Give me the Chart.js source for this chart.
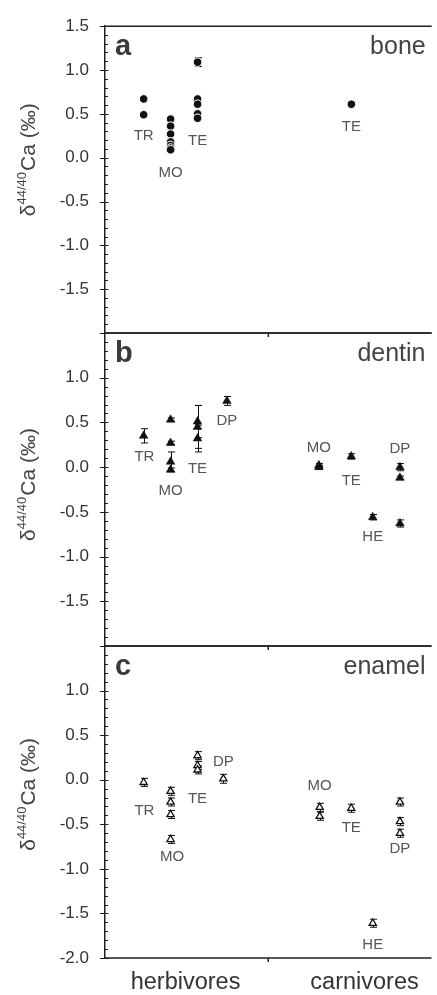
<!DOCTYPE html>
<html>
<head>
<meta charset="utf-8">
<script src="https://cdn.jsdelivr.net/npm/chart.js@4"></script>
<style>
html,body{margin:0;padding:0;background:#fff;overflow:hidden}
#wrap{position:relative;width:437px;height:995px}
#wrap canvas{position:absolute;left:0;top:0}
</style>
</head>
<body>
<div id="wrap">
<canvas id="pa" width="437" height="995"></canvas>
<canvas id="pb" width="437" height="995"></canvas>
<canvas id="pc" width="437" height="995"></canvas>
</div>
<script>
const FONT = '"Liberation Sans", Arial, Helvetica, sans-serif';

// x axis: diet categories and divider
const categories = ['herbivores', 'carnivores'];
const categoryX = [2.96, 9.54];
const xDivider = 6;

// y tick labels shown in each panel
const boneTicks = ['1.5', '1.0', '0.5', '0.0', '-0.5', '-1.0', '-1.5'];
const dentinTicks = ['1.0', '0.5', '0.0', '-0.5', '-1.0', '-1.5'];
const enamelTicks = ['1.0', '0.5', '0.0', '-0.5', '-1.0', '-1.5', '-2.0'];

// Panel a: bone
const boneX   = [1.42, 1.42, 2.41, 2.41, 2.41, 2.41, 2.41, 2.41, 2.41, 3.40, 3.40, 3.40, 3.40, 3.40, 9.05];
const boneY   = [0.67, 0.49, 0.44, 0.36, 0.27, 0.18, 0.14, 0.11, 0.09, 1.09, 0.67, 0.61, 0.50, 0.45, 0.61];
const boneErr = [0, 0, 0, 0, 0, 0, 0, 0, 0, 0.05, 0, 0, 0, 0, 0];
const boneLabels = ['TR', 'MO', 'TE', 'TE'];
const boneLabelX = [1.42, 2.41, 3.40, 9.05];
const boneLabelY = [0.25, -0.17, 0.19, 0.35];

// Panel b: dentin
const dentinX   = [1.42, 2.41, 2.41, 2.41, 2.41, 3.40, 3.40, 3.40, 4.48, 7.86, 7.86, 9.05, 10.84, 10.84, 9.84, 10.84];
const dentinY   = [0.35, 0.53, 0.27, 0.06, -0.03, 0.51, 0.45, 0.32, 0.74, 0.02, 0.00, 0.12, 0.00, -0.12, -0.56, -0.63];
const dentinErr = [0.08, 0.02, 0.02, 0.11, 0.02, 0.18, 0.24, 0.15, 0.05, 0.02, 0.02, 0.03, 0.04, 0.02, 0.03, 0.04];
const dentinLabels = ['TR', 'MO', 'TE', 'DP', 'MO', 'TE', 'HE', 'DP'];
const dentinLabelX = [1.45, 2.41, 3.40, 4.48, 7.86, 9.05, 9.84, 10.84];
const dentinLabelY = [0.11, -0.27, -0.02, 0.52, 0.22, -0.15, -0.78, 0.21];

// Panel c: enamel
const enamelX   = [1.42, 2.41, 2.41, 2.41, 2.41, 3.40, 3.40, 3.40, 4.35, 7.89, 7.89, 9.05, 10.84, 10.84, 10.84, 9.84];
const enamelY   = [-0.03, -0.13, -0.25, -0.39, -0.67, 0.27, 0.16, 0.11, 0.01, -0.31, -0.41, -0.32, -0.25, -0.47, -0.60, -1.61];
const enamelErr = [0.045, 0.045, 0.045, 0.045, 0.045, 0.045, 0.045, 0.045, 0.05, 0.045, 0.045, 0.045, 0.045, 0.045, 0.045, 0.045];
const enamelLabels = ['TR', 'MO', 'TE', 'DP', 'MO', 'TE', 'HE', 'DP'];
const enamelLabelX = [1.45, 2.47, 3.40, 4.35, 7.89, 9.05, 9.84, 10.84];
const enamelLabelY = [-0.35, -0.86, -0.22, 0.195, -0.07, -0.54, -1.85, -0.775];

function panelPlugin(cfg) {
  return {
    id: 'panel_' + cfg.letter,
    beforeDatasetsDraw(chart) {
      const ctx = chart.ctx, xs = chart.scales.x, ys = chart.scales.y;
      ctx.save();
      ctx.strokeStyle = '#111';
      ctx.lineWidth = 1;
      cfg.x.forEach((xv, i) => {
        const e = cfg.err[i];
        if (!e) return;
        const px = Math.round(xs.getPixelForValue(xv)) + 0.5;
        const y1 = ys.getPixelForValue(cfg.y[i] + e);
        const y2 = ys.getPixelForValue(cfg.y[i] - e);
        ctx.beginPath();
        ctx.moveTo(px, y1); ctx.lineTo(px, y2);
        ctx.moveTo(px - 3.5, y1); ctx.lineTo(px + 3.5, y1);
        ctx.moveTo(px - 3.5, y2); ctx.lineTo(px + 3.5, y2);
        ctx.stroke();
      });
      ctx.restore();
    },
    afterDraw(chart) {
      const ctx = chart.ctx, a = chart.chartArea, xs = chart.scales.x, ys = chart.scales.y;
      ctx.save();
      // frame lines (top and bottom of panel)
      ctx.strokeStyle = '#222';
      ctx.lineWidth = 1.5;
      ctx.beginPath();
      ctx.moveTo(a.left, a.top); ctx.lineTo(a.right, a.top);
      ctx.moveTo(a.left, a.bottom); ctx.lineTo(a.right, a.bottom);
      // divider tick on bottom axis
      const mx = xs.getPixelForValue(xDivider);
      ctx.moveTo(mx, a.bottom); ctx.lineTo(mx, a.bottom + 4);
      ctx.stroke();
      // y ticks: major every 0.5 (crossing), minor every 0.1
      ctx.lineWidth = 1;
      ctx.beginPath();
      for (let k = 0; k <= 35; k++) {
        const v = ys.min + k * 0.1;
        const py = Math.round(ys.getPixelForValue(v)) + 0.5;
        if (k % 5 === 0) {
          ctx.moveTo(a.left - 5, py); ctx.lineTo(a.left + 3.5, py);
        } else {
          ctx.moveTo(a.left, py); ctx.lineTo(a.left + 3, py);
        }
      }
      ctx.stroke();
      // panel letter
      ctx.fillStyle = '#3a3a3a';
      ctx.font = 'bold 29px ' + FONT;
      ctx.textAlign = 'left';
      ctx.textBaseline = 'alphabetic';
      ctx.fillText(cfg.letter, a.left + 10, a.top + 29);
      // tissue name
      ctx.fillStyle = '#444';
      ctx.font = '25px ' + FONT;
      ctx.textAlign = 'right';
      ctx.fillText(cfg.name, a.right - 6, a.top + 28);
      // group labels
      ctx.fillStyle = '#555';
      ctx.font = '15px ' + FONT;
      ctx.textAlign = 'center';
      ctx.textBaseline = 'middle';
      cfg.labels.forEach((t, i) => {
        ctx.fillText(t, xs.getPixelForValue(cfg.labelX[i]), ys.getPixelForValue(cfg.labelY[i]));
      });
      // y axis title with superscript
      const cy = ys.getPixelForValue(cfg.titleMid);
      ctx.translate(35, cy);
      ctx.rotate(-Math.PI / 2);
      ctx.fillStyle = '#444';
      ctx.textAlign = 'left';
      ctx.textBaseline = 'alphabetic';
      ctx.font = '21px ' + FONT;
      const w1 = ctx.measureText('\u03B4').width;
      const w3 = ctx.measureText('Ca (\u2030)').width;
      ctx.font = '13px ' + FONT;
      const w2 = ctx.measureText('44/40').width;
      let x0 = -(w1 + w2 + w3) / 2;
      ctx.font = '21px ' + FONT;
      ctx.fillText('\u03B4', x0, 0);
      ctx.font = '13px ' + FONT;
      ctx.fillText('44/40', x0 + w1, -9);
      ctx.font = '21px ' + FONT;
      ctx.fillText('Ca (\u2030)', x0 + w1 + w2 + 1, 0);
      ctx.restore();
    }
  };
}

function makePanel(id, cfg) {
  const showX = cfg.showX;
  new Chart(document.getElementById(id), {
    type: 'scatter',
    data: {
      datasets: [{
        data: cfg.x.map((xv, i) => ({x: xv, y: cfg.y[i]})),
        pointStyle: cfg.pointStyle,
        pointRadius: cfg.radius,
        pointBackgroundColor: cfg.fill,
        pointBorderColor: cfg.stroke,
        pointBorderWidth: cfg.strokeWidth,
        clip: false
      }]
    },
    options: {
      responsive: false,
      animation: false,
      devicePixelRatio: 1,
      events: [],
      layout: {padding: {top: cfg.padTop, bottom: cfg.padBottom, left: 0, right: 0}},
      plugins: {legend: {display: false}, tooltip: {enabled: false}},
      scales: {
        x: {
          type: 'linear',
          min: 0,
          max: 12,
          display: showX,
          border: {display: false},
          grid: {display: false, drawTicks: false},
          afterBuildTicks: s => { s.ticks = categoryX.map(v => ({value: v})); },
          afterFit: s => { s.height = showX ? 37 : 0; },
          ticks: {
            autoSkip: false,
            maxRotation: 0,
            padding: 10,
            color: '#333',
            font: {family: FONT, size: 23.5},
            callback: (v, i) => categories[i]
          }
        },
        y: {
          type: 'linear',
          min: -2.0,
          max: 1.5,
          border: {display: true, color: '#222', width: 1.5},
          grid: {display: false, drawTicks: false},
          afterFit: s => { s.width = 105; },
          ticks: {
            stepSize: 0.5,
            padding: 16,
            color: '#333',
            font: {family: FONT, size: 17},
            callback: v => {
              const t = Number(v).toFixed(1);
              return cfg.ticks.includes(t) ? t : '';
            }
          }
        }
      }
    },
    plugins: [panelPlugin(cfg)]
  });
}

makePanel('pa', {
  letter: 'a', name: 'bone', x: boneX, y: boneY, err: boneErr,
  labels: boneLabels, labelX: boneLabelX, labelY: boneLabelY, ticks: boneTicks,
  pointStyle: 'circle', radius: 4.3, fill: '#111', stroke: '#fff', strokeWidth: 1,
  padTop: 21, padBottom: 995 - 333, showX: false, titleMid: -0.03
});
makePanel('pb', {
  letter: 'b', name: 'dentin', x: dentinX, y: dentinY, err: dentinErr,
  labels: dentinLabels, labelX: dentinLabelX, labelY: dentinLabelY, ticks: dentinTicks,
  pointStyle: 'triangle', radius: 5, fill: '#111', stroke: '#111', strokeWidth: 0.5,
  padTop: 333, padBottom: 995 - 646, showX: false, titleMid: -0.2
});
makePanel('pc', {
  letter: 'c', name: 'enamel', x: enamelX, y: enamelY, err: enamelErr,
  labels: enamelLabels, labelX: enamelLabelX, labelY: enamelLabelY, ticks: enamelTicks,
  pointStyle: 'triangle', radius: 4.2, fill: '#fff', stroke: '#111', strokeWidth: 1.3,
  padTop: 646, padBottom: 0, showX: true, titleMid: -0.17
});
</script>
</body>
</html>
